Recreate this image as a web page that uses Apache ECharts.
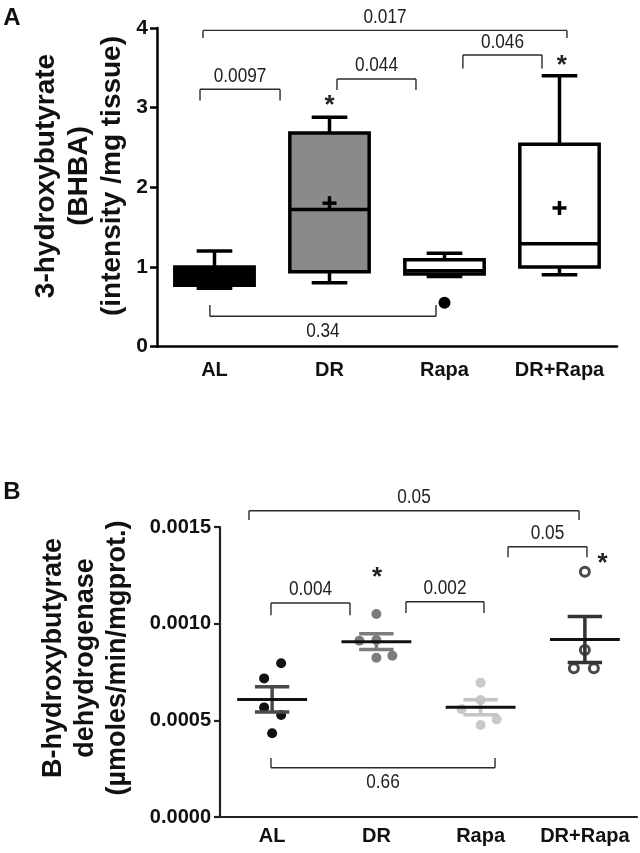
<!DOCTYPE html>
<html><head><meta charset="utf-8">
<script src="https://cdn.jsdelivr.net/npm/echarts@6/dist/echarts.min.js"></script>
<style>html,body{margin:0;padding:0;background:#fff}#c{width:640px;height:853px}</style>
</head><body><div id="c"></div>
<script>
// ---------- shared ----------
const categories = ['AL', 'DR', 'Rapa', 'DR+Rapa'];

// ---------- Panel A : box plot (3-hydroxybutyrate) ----------
const yTicksA = [0, 1, 2, 3, 4];
const boxMin    = [0.73, 0.80, 0.88, 0.90];
const boxQ1     = [0.77, 0.94, 0.91, 1.00];
const boxMedian = [0.85, 1.72, 0.95, 1.29];
const boxQ3     = [1.00, 2.68, 1.09, 2.54];
const boxMax    = [1.20, 2.88, 1.17, 3.40];
const boxMean   = [null, 1.80, null, 1.74];
const outliersA = [[2, 0.55]];
// brackets: [x start, x end (category index units), y of bar, y of leg ends]
const bracketsA = [
  [-0.126, 0.570, 3.23, 3.09],
  [-0.100, 3.065, 3.97, 3.875],
  [1.065, 1.752, 3.36, 3.22],
  [2.160, 2.848, 3.66, 3.49],
  [-0.040, 1.926, 0.38, 0.52]
];
const bracketLabelsA = ['0.0097', '0.017', '0.044', '0.046', '0.34'];
const starsA = [[1.0, 3.12], [3.02, 3.62]];

// ---------- Panel B : dot plot (B-hydroxybutyrate dehydrogenase) ----------
const yTicksB = [0, 0.0005, 0.0010, 0.0015];
const dotsAL     = [0.000795, 0.000717, 0.000567, 0.000528, 0.000433];
const dotsDR     = [0.001050, 0.000915, 0.000912, 0.000834, 0.000824];
const dotsRapa   = [0.000695, 0.000605, 0.000557, 0.000505, 0.000476];
const dotsDRRapa = [0.001269, 0.000864, 0.000769, 0.000769];
const bracketsB = [
  [-0.222, 2.944, 0.001584, 0.001536],
  [-0.011, 0.747, 0.001107, 0.001044],
  [1.284, 2.032, 0.001113, 0.001055],
  [2.263, 3.020, 0.001398, 0.001344],
  [-0.011, 2.138, 0.000255, 0.000305]
];
const bracketLabelsB = ['0.05', '0.004', '0.002', '0.05', '0.66'];
const starsB = [[1.006, 0.001277], [3.17, 0.00135]];

// ---------- styling (not data) ----------
const jitter = [[9, -8, -8, 9, 0], [0, 0, -17, 16, 0], [0, 0, -19, 16, 0], [0, 0, -11, 9]];
const boxFill = ['#000000', '#8a8a8a', '#ffffff', '#ffffff'];
const dotColor = ['#111111', '#7c7c7c', '#c9c9c9', '#ffffff'];
const semColor = ['#4a4a4a', '#7c7c7c', '#c4c4c4', '#333333'];
const SANS = '"Liberation Sans", Arial, sans-serif';

function mean(a) { return a.reduce((s, v) => s + v, 0) / a.length; }
function sem(a) {
  const m = mean(a);
  const sd = Math.sqrt(a.reduce((s, v) => s + (v - m) * (v - m), 0) / (a.length - 1));
  return sd / Math.sqrt(a.length);
}

function txt(x, y, text, font, fill, align, valign, extra) {
  return Object.assign({
    type: 'text', x: x, y: y,
    style: { text: text, font: font, fill: fill, align: align, verticalAlign: valign,
             textAlign: align, textVerticalAlign: valign }
  }, extra || {});
}

function renderBox(params, api) {
  const i = api.value(0);
  const band = api.size([1, 0])[0];
  const bw = band * 0.69, cw = band * 0.31;
  const x = api.coord([i, 0])[0];
  const y = k => api.coord([i, api.value(k)])[1];
  const yMin = y(1), yQ1 = y(2), yMed = y(3), yQ3 = y(4), yMax = y(5);
  const lw = 3.5;
  const ls = { stroke: '#000', lineWidth: lw, fill: null };
  const ch = [
    { type: 'line', shape: { x1: x, y1: yQ3, x2: x, y2: yMax }, style: ls },
    { type: 'line', shape: { x1: x, y1: yQ1, x2: x, y2: yMin }, style: ls },
    { type: 'line', shape: { x1: x - cw / 2, y1: yMax, x2: x + cw / 2, y2: yMax }, style: ls },
    { type: 'line', shape: { x1: x - cw / 2, y1: yMin, x2: x + cw / 2, y2: yMin }, style: ls },
    { type: 'rect', shape: { x: x - bw / 2, y: yQ3, width: bw, height: yQ1 - yQ3 },
      style: { fill: boxFill[params.dataIndex], stroke: '#000', lineWidth: lw } },
    { type: 'line', shape: { x1: x - bw / 2, y1: yMed, x2: x + bw / 2, y2: yMed }, style: ls }
  ];
  const mv = api.value(6);
  if (mv != null && !isNaN(mv)) {
    const ym = api.coord([i, mv])[1];
    ch.push({ type: 'line', shape: { x1: x - 7, y1: ym, x2: x + 7, y2: ym }, style: ls });
    ch.push({ type: 'line', shape: { x1: x, y1: ym - 7, x2: x, y2: ym + 7 }, style: ls });
  }
  return { type: 'group', children: ch };
}

function makeBracketRender(labels) {
  return function (params, api) {
    const p1 = api.coord([api.value(0), api.value(2)]);
    const p2 = api.coord([api.value(1), api.value(2)]);
    const legY = api.coord([api.value(0), api.value(3)])[1];
    const below = legY < p1[1];
    const ls = { stroke: '#2a2a2a', lineWidth: 1.4, fill: null };
    const cx = (p1[0] + p2[0]) / 2;
    return { type: 'group', children: [
      { type: 'line', shape: { x1: p1[0], y1: p1[1], x2: p2[0], y2: p2[1] }, style: ls },
      { type: 'line', shape: { x1: p1[0], y1: p1[1], x2: p1[0], y2: legY }, style: ls },
      { type: 'line', shape: { x1: p2[0], y1: p2[1], x2: p2[0], y2: legY }, style: ls },
      txt(cx, below ? p1[1] + 5 : p1[1] - 3, labels[params.dataIndex], '20px ' + SANS, '#222',
          'center', below ? 'top' : 'bottom', { scaleX: 0.86 })
    ]};
  };
}

function renderStar(params, api) {
  const p = api.coord([api.value(0), api.value(1)]);
  return txt(p[0], p[1] + 8, '*', 'bold 26px ' + SANS, '#222', 'center', 'middle');
}

function renderMeanSem(params, api) {
  const i = api.value(0);
  const band = api.size([1, 0])[0];
  const mw = band * 0.67, cw = band * 0.33;
  const x = api.coord([i, 0])[0];
  const ym = api.coord([i, api.value(1)])[1];
  const yt = api.coord([i, api.value(1) + api.value(2)])[1];
  const yb = api.coord([i, api.value(1) - api.value(2)])[1];
  const sc = { stroke: semColor[params.dataIndex], lineWidth: 3.5, fill: null };
  return { type: 'group', children: [
    { type: 'line', shape: { x1: x, y1: yt, x2: x, y2: yb }, style: sc },
    { type: 'line', shape: { x1: x - cw / 2, y1: yt, x2: x + cw / 2, y2: yt }, style: sc },
    { type: 'line', shape: { x1: x - cw / 2, y1: yb, x2: x + cw / 2, y2: yb }, style: sc },
    { type: 'line', shape: { x1: x - mw / 2, y1: ym, x2: x + mw / 2, y2: ym },
      style: { stroke: '#111', lineWidth: 3, fill: null } }
  ]};
}

const groupsB = [dotsAL, dotsDR, dotsRapa, dotsDRRapa];

const boxData = categories.map((c, i) => [i, boxMin[i], boxQ1[i], boxMedian[i], boxQ3[i], boxMax[i], boxMean[i] == null ? NaN : boxMean[i]]);
const meanSemData = groupsB.map((g, i) => [i, mean(g), sem(g)]);

const axisA = { onZero: false, lineStyle: { color: '#000', width: 2.5 } };
const axisB = { onZero: false, lineStyle: { color: '#222', width: 2.2 } };

const scatterSeries = groupsB.map((g, gi) => ({
  type: 'scatter', xAxisIndex: 2, yAxisIndex: 1, z: 3,
  symbol: 'circle', symbolSize: gi === 3 ? 9 : 10,
  itemStyle: gi === 3 ? { color: '#fff', borderColor: '#4a4a4a', borderWidth: 3, opacity: 1 }
                      : { color: dotColor[gi], opacity: 1 },
  data: g.map((v, k) => ({ value: [gi, v], symbolOffset: [jitter[gi][k], 0] })),
  animation: false
}));

const option = {
  animation: false,
  backgroundColor: '#fff',
  grid: [
    { left: 157, top: 28, width: 460, height: 318.5 },
    { left: 220, top: 527, width: 417, height: 290 }
  ],
  xAxis: [
    { gridIndex: 0, type: 'category', data: categories,
      axisLine: axisA, axisTick: { alignWithLabel: true, length: 7, lineStyle: { color: '#000', width: 2.5 } },
      axisLabel: { interval: 0, color: '#111', fontWeight: 'bold', fontSize: 20, fontFamily: SANS, margin: 14 } },
    { gridIndex: 0, type: 'value', min: -0.5, max: 3.5, show: false, axisLine: { onZero: false } },
    { gridIndex: 1, type: 'category', data: categories,
      axisLine: axisB, axisTick: { alignWithLabel: true, length: 6, lineStyle: { color: '#222', width: 2.2 } },
      axisLabel: { interval: 0, color: '#111', fontWeight: 'bold', fontSize: 20, fontFamily: SANS, margin: 9 } },
    { gridIndex: 1, type: 'value', min: -0.5, max: 3.5, show: false, axisLine: { onZero: false } }
  ],
  yAxis: [
    { gridIndex: 0, type: 'value', min: yTicksA[0], max: yTicksA[yTicksA.length - 1], interval: yTicksA[1] - yTicksA[0],
      axisLine: Object.assign({ show: true }, axisA),
      axisTick: { show: true, length: 7, lineStyle: { color: '#000', width: 2.5 } },
      splitLine: { show: false },
      axisLabel: { color: '#111', fontWeight: 'bold', fontSize: 21, fontFamily: SANS, margin: 9 } },
    { gridIndex: 1, type: 'value', min: yTicksB[0], max: yTicksB[yTicksB.length - 1], interval: yTicksB[1] - yTicksB[0],
      axisLine: Object.assign({ show: true }, axisB),
      axisTick: { show: true, length: 6, lineStyle: { color: '#222', width: 2.2 } },
      splitLine: { show: false },
      axisLabel: { color: '#111', fontWeight: 'bold', fontSize: 20, fontFamily: SANS, margin: 9,
                   formatter: v => v.toFixed(4) } }
  ],
  series: [
    { type: 'custom', xAxisIndex: 0, yAxisIndex: 0, renderItem: renderBox, data: boxData,
      encode: { x: 0, y: [1, 2, 3, 4, 5] }, z: 2 },
    { type: 'scatter', xAxisIndex: 0, yAxisIndex: 0, symbol: 'circle', symbolSize: 12,
      itemStyle: { color: '#000', opacity: 1 }, data: outliersA, z: 3 },
    { type: 'custom', xAxisIndex: 1, yAxisIndex: 0, renderItem: makeBracketRender(bracketLabelsA),
      data: bracketsA, clip: false, z: 4 },
    { type: 'custom', xAxisIndex: 1, yAxisIndex: 0, renderItem: renderStar, data: starsA, clip: false, z: 4 },
    ...scatterSeries,
    { type: 'custom', xAxisIndex: 2, yAxisIndex: 1, renderItem: renderMeanSem, data: meanSemData, z: 5 },
    { type: 'custom', xAxisIndex: 3, yAxisIndex: 1, renderItem: makeBracketRender(bracketLabelsB),
      data: bracketsB, clip: false, z: 4 },
    { type: 'custom', xAxisIndex: 3, yAxisIndex: 1, renderItem: renderStar, data: starsB, clip: false, z: 4 }
  ],
  graphic: [
    txt(12, 18, 'A', 'bold 24px ' + SANS, '#111', 'center', 'middle'),
    txt(12, 492, 'B', 'bold 24px ' + SANS, '#111', 'center', 'middle'),
    txt(79, 176, '', '', '#111', 'center', 'middle',
        { rotation: Math.PI / 2, style: { text: '3-hydroxybutyrate\n(BHBA)\n(intensity /mg tissue)', font: 'bold 28px ' + SANS,
          fill: '#111', align: 'center', verticalAlign: 'middle', textAlign: 'center', textVerticalAlign: 'middle', lineHeight: 33 } }),
    txt(86, 658, '', '', '#111', 'center', 'middle',
        { rotation: Math.PI / 2, style: { text: 'B-hydroxybutyrate\ndehydrogenase\n(µmoles/min/mgprot.)', font: 'bold 27px ' + SANS,
          fill: '#111', align: 'center', verticalAlign: 'middle', textAlign: 'center', textVerticalAlign: 'middle', lineHeight: 32 } })
  ]
};

const chart = echarts.init(document.getElementById('c'), null, { renderer: 'canvas' });
chart.setOption(option);
</script>
</body></html>
